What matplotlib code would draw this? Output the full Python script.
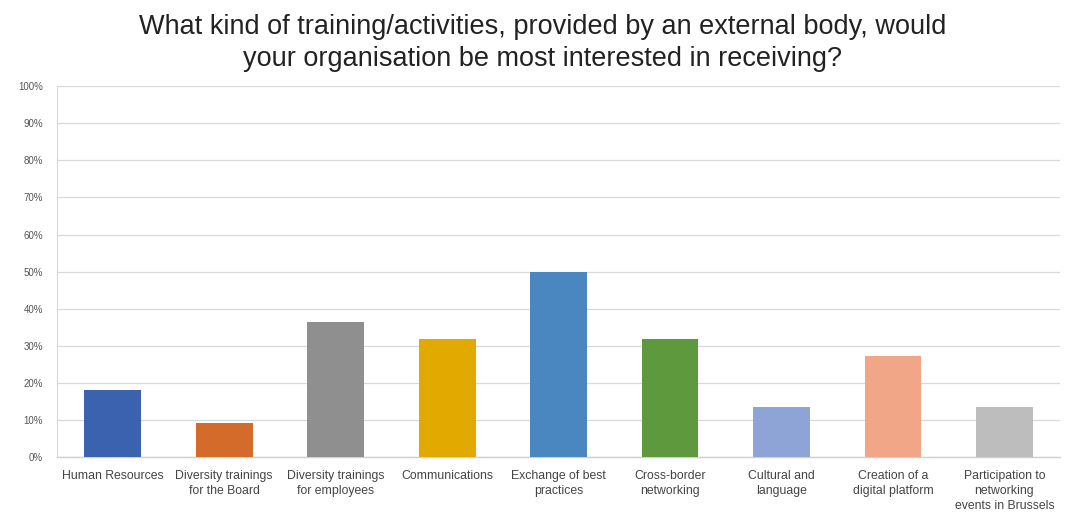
import numpy as np
import matplotlib.pyplot as plt

categories = ["Human Resources", "Diversity trainings\nfor the Board", "Diversity trainings\nfor employees",
              "Communications", "Exchange of best\npractices", "Cross-border\nnetworking",
              "Cultural and\nlanguage", "Creation of a\ndigital platform",
              "Participation to\nnetworking\nevents in Brussels"]
values = [18.2, 9.1, 36.4, 31.8, 50.0, 31.8, 13.6, 27.3, 13.6]
colors = ["#3B62AE", "#D46B2A", "#8F8F8F", "#E2A900", "#4A87C0",
          "#5E993D", "#8EA4D7", "#F0A687", "#BDBDBD"]
yticks = np.arange(0, 101, 10)

fig = plt.figure(figsize=(10.66, 5.16), dpi=100)
ax = fig.add_axes([0.0535, 0.114, 0.941, 0.719])

x = np.arange(len(categories))
ax.bar(x, values, width=0.51, color=colors, zorder=3)

ax.set_xlim(-0.5, len(categories) - 0.5)
ax.set_ylim(0, 100)
ax.set_yticks(yticks)
ax.set_yticklabels([f"{t}%" for t in yticks], fontsize=7, color="#555555", family="Liberation Sans")
ax.set_xticks(x)
ax.set_xticklabels(categories, fontsize=8.8, color="#444444", family="Liberation Sans", linespacing=1.35)
ax.tick_params(length=0, pad=10)
ax.tick_params(axis="x", pad=9)

ax.grid(axis="y", color="#D9D9D9", linewidth=0.9, zorder=0)
for s in ["top", "right"]:
    ax.spines[s].set_visible(False)
ax.spines["left"].set_color("#D9D9D9")
ax.spines["bottom"].set_color("#D0D0D0")
ax.spines["bottom"].set_linewidth(1.0)

fig.suptitle("What kind of training/activities, provided by an external body, would\n"
             "your organisation be most interested in receiving?",
             fontsize=19.5, family="Liberation Sans", color="#222222", x=0.509, y=0.972, linespacing=1.3)

fig.savefig("out.png", dpi=100)
